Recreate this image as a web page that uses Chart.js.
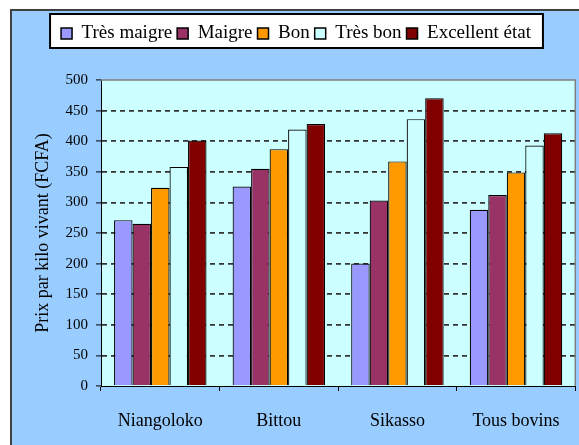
<!DOCTYPE html>
<html>
<head>
<meta charset="utf-8">
<script src="https://cdn.jsdelivr.net/npm/chart.js@4"></script>
<style>
  html, body { margin: 0; padding: 0; background: #ffffff; }
  #wrap { width: 579px; height: 445px; position: relative; }
</style>
</head>
<body>
<div id="wrap"><canvas id="c" width="579" height="445"></canvas></div>
<script>
// ---- Data ----
const categories = ['Niangoloko', 'Bittou', 'Sikasso', 'Tous bovins'];
const seriesNames = ['Très maigre', 'Maigre', 'Bon', 'Très bon', 'Excellent état'];
const tresMaigre = [271, 326, 200, 288];
const maigre     = [265, 355, 303, 312];
const bon        = [324, 387, 367, 349];
const tresBon    = [358, 419, 436, 393];
const excellent  = [401, 428, 470, 413];
const yAxisTitle = 'Prix par kilo vivant (FCFA)';
const yMin = 0, yMax = 500, yStep = 50;

// ---- Styles ----
const seriesColors = ['#9999FF', '#993366', '#FF9900', '#CCFFFF', '#800000'];
const FONT = '"Liberation Serif", "Times New Roman", serif';
const seriesValues = [tresMaigre, maigre, bon, tresBon, excellent];

const framePlugin = {
  id: 'framePlugin',
  beforeLayout(chart) {
    const lg = chart.legend;
    if (lg && !lg._patched) {
      const orig = lg.fit;
      lg.fit = function () { orig.call(this); this.height = 61; };
      lg._patched = true;
    }
  },
  afterLayout(chart) {
    const lg = chart.legend;
    if (lg) { lg.left = 13; lg.right = 579; }
  },
  beforeDraw(chart) {
    const ctx = chart.ctx;
    const a = chart.chartArea;
    ctx.save();
    ctx.fillStyle = '#ffffff';
    ctx.fillRect(0, 0, chart.width, chart.height);
    // outer light-blue frame
    ctx.fillStyle = '#99CCFF';
    ctx.fillRect(11, 10, chart.width - 11, chart.height - 10);
    ctx.strokeStyle = '#404040';
    ctx.lineWidth = 2;
    ctx.beginPath();
    ctx.moveTo(11, chart.height);
    ctx.lineTo(11, 10);
    ctx.lineTo(chart.width, 10);
    ctx.stroke();
    // plot area background
    ctx.fillStyle = '#CCFFFF';
    ctx.fillRect(a.left, a.top, a.right - a.left, a.bottom - a.top);
    // legend box
    const hb = chart.legend && chart.legend.legendHitBoxes;
    if (hb && hb.length) {
      const l = hb[0].left - 11;
      const last = hb[hb.length - 1];
      const r = last.left + last.width + 12;
      ctx.fillStyle = '#ffffff';
      ctx.fillRect(l, 14, r - l, 34);
      ctx.strokeStyle = '#000000';
      ctx.lineWidth = 2;
      ctx.strokeRect(l, 14, r - l, 34);
    }
    ctx.restore();
  },
  beforeDatasetsDraw(chart) {
    const ctx = chart.ctx;
    const a = chart.chartArea;
    ctx.save();
    ctx.strokeStyle = '#808080';
    ctx.lineWidth = 1.5;
    ctx.beginPath();
    ctx.moveTo(a.left, a.top);
    ctx.lineTo(a.right, a.top);
    ctx.lineTo(a.right, a.bottom);
    ctx.stroke();
    ctx.restore();
  }
};

new Chart(document.getElementById('c'), {
  type: 'bar',
  data: {
    labels: categories,
    datasets: seriesNames.map((name, i) => ({
      label: name,
      data: seriesValues[i],
      backgroundColor: seriesColors[i],
      borderColor: '#000000',
      borderWidth: 1.2,
      borderSkipped: 'bottom',
      categoryPercentage: 0.78,
      barPercentage: 1.0
    }))
  },
  options: {
    responsive: false,
    animation: false,
    devicePixelRatio: 1,
    layout: { padding: { left: 11, top: 19, right: 3, bottom: 0 } },
    plugins: {
      legend: {
        display: true,
        position: 'top',
        labels: {
          color: '#000000',
          font: { family: FONT, size: 19 },
          boxWidth: 11,
          boxHeight: 11,
          padding: 5,
          generateLabels(chart) {
            return chart.data.datasets.map((ds, i) => ({
              text: ds.label,
              fillStyle: ds.backgroundColor,
              strokeStyle: '#000000',
              lineWidth: 1.5,
              hidden: false,
              datasetIndex: i,
              fontColor: '#000000'
            }));
          }
        }
      },
      tooltip: { enabled: false },
      title: { display: false }
    },
    scales: {
      x: {
        offset: true,
        afterFit(scale) { scale.height = 59; },
        grid: {
          offset: true,
          drawOnChartArea: false,
          drawTicks: true,
          tickLength: 5,
          tickColor: '#000000',
          tickWidth: 1
        },
        border: { display: true, color: '#000000', width: 1 },
        ticks: {
          color: '#000000',
          font: { family: FONT, size: 18 },
          padding: 19,
          maxRotation: 0,
          autoSkip: false
        }
      },
      y: {
        min: yMin,
        max: yMax,
        afterFit(scale) { scale.width = 90; },
        grid: {
          drawOnChartArea: true,
          color(ctx) {
            const v = ctx.tick ? ctx.tick.value : null;
            return (v === yMin || v === yMax) ? 'rgba(0,0,0,0)' : '#333333';
          },
          lineWidth: 1.8,
          drawTicks: true,
          tickLength: 5,
          tickColor: '#000000',
          tickWidth: 1
        },
        border: { display: true, color: '#000000', width: 1, dash: [5, 4] },
        ticks: {
          stepSize: yStep,
          color: '#000000',
          font: { family: FONT, size: 15 },
          padding: 8
        },
        title: {
          display: true,
          text: yAxisTitle,
          color: '#000000',
          font: { family: FONT, size: 18 },
          padding: { top: 21, bottom: 0 }
        }
      }
    }
  },
  plugins: [framePlugin]
});
</script>
</body>
</html>
